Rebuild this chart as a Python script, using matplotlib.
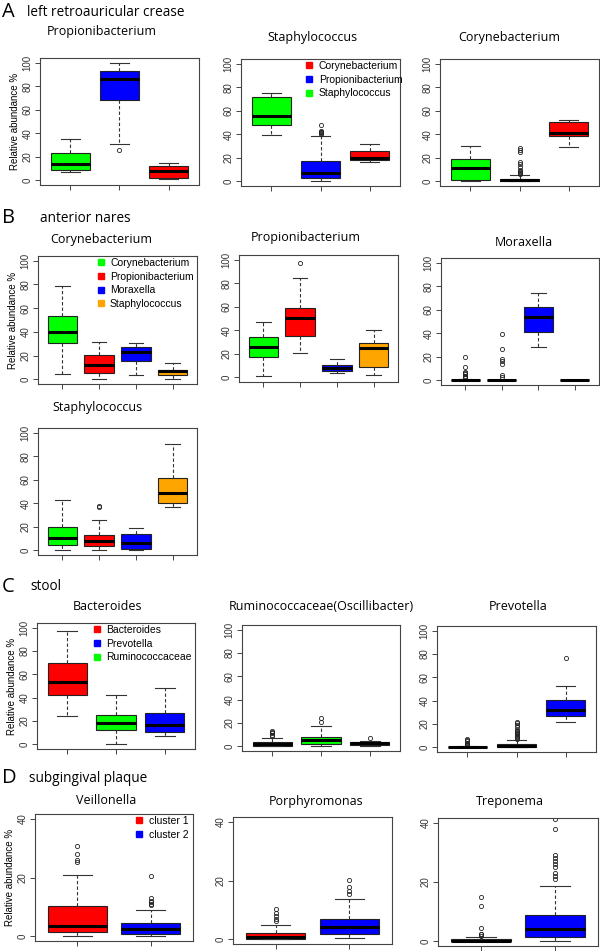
import matplotlib.pyplot as plt
from matplotlib.lines import Line2D

# colori dei gruppi
GREEN, BLUE, RED, ORANGE = "#00FF00", "#0000FF", "#FF0000", "#FFA500"

# ---- A: left retroauricular crease ----
a_colors = [GREEN, BLUE, RED]
a1_stats = [(6.8, 8.8, 13.9, 23.6, 34.7), (30.7, 68.2, 86.1, 93.2, 99.5), (1.1, 2.0, 7.9, 12.2, 14.8)]
a1_fliers = [[], [25.8], []]
a2_stats = [(39.7, 47.9, 55.2, 71.4, 74.8), (0.0, 2.8, 7.1, 17.0, 38.8), (16.5, 18.2, 20.1, 26.0, 31.4)]
a2_fliers = [[], [40, 40.8, 41.5, 42.3, 43, 48], []]
a3_stats = [(0.0, 1.4, 11.1, 18.6, 30.3), (0.0, 0.3, 1.2, 2.2, 5.3), (29.5, 38.1, 41.1, 50.6, 52.0)]
a3_fliers = [[], [6, 7, 8, 9, 10, 12, 15, 16, 25, 27, 28], []]
a2_legend = ["Corynebacterium", "Propionibacterium", "Staphylococcus"]
a2_legend_colors = [RED, BLUE, GREEN]

# ---- B: anterior nares ----
b_colors = [GREEN, RED, BLUE, ORANGE]
b1_stats = [(4.8, 30.8, 39.5, 53.5, 79.0), (0.0, 5.6, 12.3, 20.7, 31.4),
            (3.6, 15.1, 22.7, 26.9, 30.8), (0.0, 3.4, 6.7, 8.1, 13.4)]
b1_fliers = [[], [], [], []]
b2_stats = [(1.1, 16.9, 25.6, 34.4, 47.2), (21.0, 35.2, 50.5, 59.0, 84.1),
            (3.9, 5.4, 8.2, 10.5, 15.9), (2.0, 8.5, 24.7, 29.5, 40.3)]
b2_fliers = [[], [97.4], [], []]
b3_stats = [(0.0, 0.0, 0.0, 0.3, 0.8), (0.0, 0.0, 0.0, 0.2, 0.5),
            (28.4, 40.9, 54.0, 62.5, 74.4), (0.0, 0.0, 0.0, 0.0, 0.0)]
b3_fliers = [[2, 3, 4, 5, 6, 7, 11, 19.9], [3, 4.3, 14.2, 16.2, 18.5, 27, 39.2], [], []]
b4_stats = [(0.0, 4.8, 10.7, 19.6, 42.6), (0.0, 3.6, 7.8, 12.6, 25.5),
            (0.0, 1.4, 6.5, 14.0, 19.0), (36.4, 40.6, 48.7, 61.9, 90.5)]
b4_fliers = [[], [36.4, 37.6], [], []]
b1_legend = ["Corynebacterium", "Propionibacterium", "Moraxella", "Staphylococcus"]

# ---- C: stool ----
c_colors = [RED, GREEN, BLUE]
c1_stats = [(24.3, 42.3, 53.7, 69.5, 97.2), (0.5, 12.3, 18.0, 25.1, 42.5), (7.4, 10.8, 16.5, 27.0, 48.5)]
c1_fliers = [[], [], []]
c2_stats = [(0.0, 0.5, 2.0, 3.5, 7.0), (0.0, 2.0, 5.0, 8.0, 17.0), (0.5, 1.5, 2.5, 3.5, 4.5)]
c2_fliers = [[9, 10, 11, 12, 13], [20.5, 24.5], [7.5]]
c3_stats = [(0.0, 0.0, 0.0, 0.3, 0.8), (0.0, 0.0, 0.8, 2.5, 6.3), (22.0, 26.9, 32.0, 40.6, 52.5)]
c3_fliers = [[1.5, 2, 3, 4, 5, 6, 7], [7, 8, 9, 10, 11, 12, 13, 14, 15, 17, 19, 21, 22], [76.6]]
c1_legend = ["Bacteroides", "Prevotella", "Ruminococcaceae"]
c1_legend_colors = [RED, BLUE, GREEN]

# ---- D: subgingival plaque ----
d_colors = [RED, BLUE]
d1_stats = [(0.1, 1.4, 3.4, 10.3, 20.9), (0.0, 0.9, 2.6, 4.6, 9.1)]
d1_fliers = [[25.3, 25.8, 28.1, 30.6], [10.5, 11, 11.5, 12, 13, 20.4]]
d2_stats = [(0.0, 0.2, 0.9, 2.3, 4.8), (0.3, 1.7, 4.2, 6.8, 13.7)]
d2_fliers = [[6.3, 7, 8, 9, 10.2], [15.4, 16.5, 17.7, 20.3]]
d3_stats = [(0.0, 0.0, 0.2, 0.6, 1.5), (0.0, 1.4, 4.3, 8.9, 18.8)]
d3_fliers = [[1.8, 2.3, 2.6, 4.6, 12.0, 15.1],
             [21, 22, 23, 25, 26, 27, 28, 29, 37.9, 41.3]]
d1_legend = ["cluster 1", "cluster 2"]

W, H = 600, 951
fig = plt.figure(figsize=(W / 100, H / 100), dpi=100)

TITLE_FONT = "Open Sans"
TICK_FONT = "Liberation Sans"


def box_panel(px, stats, fliers, colors, ymax=100, yticks=(0, 20, 40, 60, 80, 100), ylabel=False):
    l, t, r, b = px
    ax = fig.add_axes([l / W, 1 - b / H, (r - l) / W, (b - t) / H])
    n = len(stats)
    bxp_data = []
    for i, (lo, q1, med, q3, hi) in enumerate(stats):
        bxp_data.append(dict(whislo=lo, q1=q1, med=med, q3=q3, whishi=hi, fliers=fliers[i]))
    parts = ax.bxp(bxp_data, positions=range(1, n + 1), widths=0.8, patch_artist=True,
                   showfliers=True,
                   boxprops=dict(edgecolor="#222222", linewidth=0.8),
                   medianprops=dict(color="black", linewidth=2.2, solid_capstyle="butt"),
                   whiskerprops=dict(color="#333333", linewidth=0.8, linestyle=(0, (3, 2))),
                   capprops=dict(color="#333333", linewidth=0.8),
                   capwidths=0.4,
                   flierprops=dict(marker="o", markersize=3, markerfacecolor="none",
                                   markeredgecolor="#222222", markeredgewidth=0.6))
    for patch, c in zip(parts["boxes"], colors):
        patch.set_facecolor(c)
    pad = 0.04 * n
    ax.set_xlim(0.5 - pad, n + 0.5 + pad)
    ax.set_ylim(-0.04 * ymax, ymax * 1.04)
    ax.set_xticks(range(1, n + 1))
    ax.set_xticklabels([])
    ax.set_yticks(yticks)
    ax.set_yticklabels([str(v) for v in yticks], rotation=90, va="center",
                       fontsize=7, family=TICK_FONT, color="#333333")
    ax.tick_params(length=3.5, width=0.7, color="#444444", pad=2)
    for s in ax.spines.values():
        s.set_color("#444444")
        s.set_linewidth(0.8)
    if ylabel:
        ax.set_ylabel("Relative abundance %", fontsize=7, family=TICK_FONT, labelpad=2)
    return ax


def legend(ax, labels, colors, xfrac, size=7.5):
    handles = [Line2D([], [], marker="s", linestyle="none", markersize=4,
                      markerfacecolor=c, markeredgecolor=c) for c in colors]
    ax.legend(handles, labels, loc="upper left", bbox_to_anchor=(xfrac, 1.0), frameon=False,
              prop=dict(family=TICK_FONT, size=size), handlelength=0.8,
              handletextpad=0.5, labelspacing=0.35, borderpad=0.2, borderaxespad=0.0)


def title(x, y, s):
    fig.text(x / W, 1 - y / H, s, ha="center", va="center", fontsize=9, family=TITLE_FONT)


def section(y, letter, s, xs):
    fig.text(2 / W, 1 - y / H, letter, ha="left", va="center", fontsize=14.5, family=TITLE_FONT)
    fig.text(xs / W, 1 - y / H, s, ha="left", va="center", fontsize=9.8, family=TITLE_FONT)


# A
section(12, "A", "left retroauricular crease", 27)
title(102, 32, "Propionibacterium")
title(312, 38, "Staphylococcus")
title(509, 37, "Corynebacterium")
box_panel((40, 58, 199, 185), a1_stats, a1_fliers, a_colors, ylabel=True)
ax = box_panel((241, 59, 400, 186), a2_stats, a2_fliers, a_colors)
legend(ax, a2_legend, a2_legend_colors, 0.39)
box_panel((440, 59, 599, 186), a3_stats, a3_fliers, a_colors)

# B
section(218, "B", "anterior nares", 40)
title(101, 239, "Corynebacterium")
title(306, 238, "Propionibacterium")
title(524, 243, "Moraxella")
ax = box_panel((38, 256, 197, 384), b1_stats, b1_fliers, b_colors, ylabel=True)
legend(ax, b1_legend, b_colors, 0.355)
box_panel((239, 255, 398, 382), b2_stats, b2_fliers, b_colors)
box_panel((441, 258, 599, 385), b3_stats, b3_fliers, b_colors)
title(97, 408, "Staphylococcus")
box_panel((38, 428, 197, 555), b4_stats, b4_fliers, b_colors)

# C
section(587, "C", "stool", 30)
title(107, 606, "Bacteroides")
title(321, 606, "Ruminococcaceae(Oscillibacter)")
title(518, 606, "Prevotella")
ax = box_panel((37, 623, 195, 749), c1_stats, c1_fliers, c_colors, ylabel=True)
legend(ax, c1_legend, c1_legend_colors, 0.34)
box_panel((242, 625, 400, 751), c2_stats, c2_fliers, c_colors)
box_panel((437, 626, 596, 752), c3_stats, c3_fliers, c_colors)

# D
section(778, "D", "subgingival plaque", 29)
title(106, 800, "Veillonella")
title(316, 801, "Porphyromonas")
title(510, 802, "Treponema")
ax = box_panel((35, 814, 193, 941), d1_stats, d1_fliers, d_colors, ymax=40, yticks=(0, 20, 40), ylabel=True)
legend(ax, d1_legend, d_colors, 0.62)
box_panel((233, 817, 392, 944), d2_stats, d2_fliers, d_colors, ymax=40, yticks=(0, 20, 40))
box_panel((438, 818, 598, 946), d3_stats, d3_fliers, d_colors, ymax=40, yticks=(0, 20, 40))

fig.savefig("out.png", dpi=100)
